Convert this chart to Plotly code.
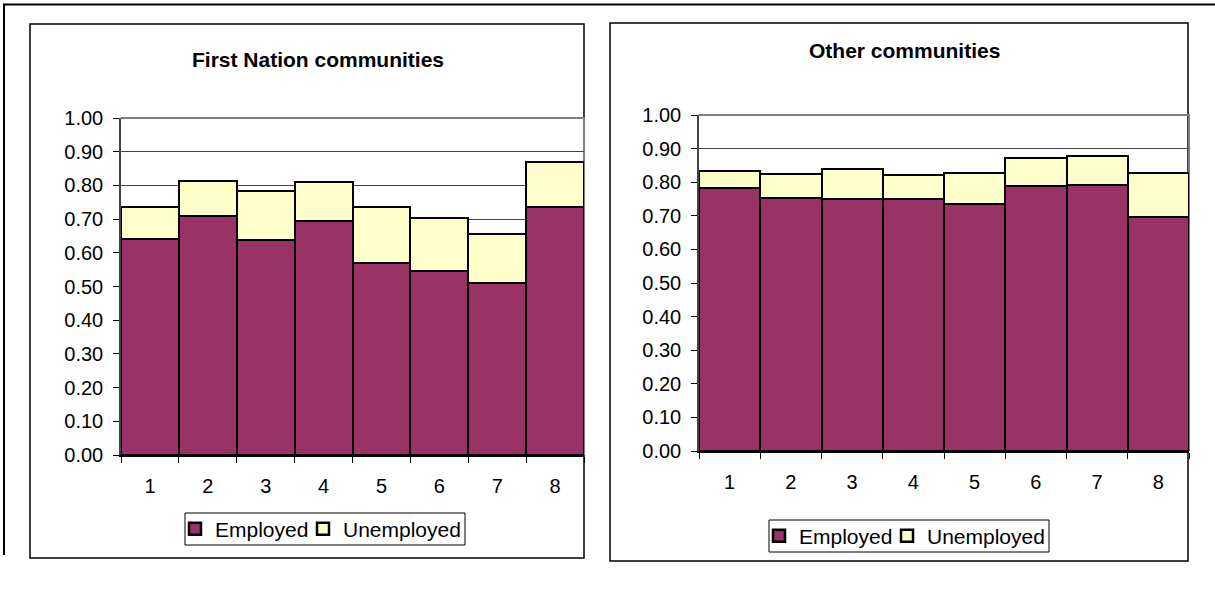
import plotly.graph_objects as go

W, H = 1215, 600

categories = ["1", "2", "3", "4", "5", "6", "7", "8"]

# First Nation communities: employed share and unemployed share (stacked)
fn_employed = [0.641, 0.709, 0.639, 0.694, 0.569, 0.547, 0.510, 0.737]
fn_unemployed = [0.094, 0.104, 0.144, 0.115, 0.168, 0.156, 0.145, 0.132]

# Other communities
oc_employed = [0.782, 0.752, 0.750, 0.749, 0.734, 0.789, 0.793, 0.697]
oc_unemployed = [0.051, 0.072, 0.088, 0.072, 0.092, 0.082, 0.085, 0.129]

series_names = ["Employed", "Unemployed"]
y_tickvals = [0.0, 0.1, 0.2, 0.3, 0.4, 0.5, 0.6, 0.7, 0.8, 0.9, 1.0]
y_ticktext = ["0.00", "0.10", "0.20", "0.30", "0.40", "0.50", "0.60", "0.70", "0.80", "0.90", "1.00"]

EMP_COLOR = "#993366"
UNEMP_COLOR = "#FFFFCC"
FONT = "Liberation Sans, Arial, sans-serif"


def px_x(x):
    return x / W


def px_y(y):
    return 1 - y / H


fig = go.Figure()

# each series gets its own one-entry legend so the entries can be placed freely
panels = [
    dict(emp=fn_employed, unemp=fn_unemployed, xa="x", ya="y", legends=("legend", "legend2")),
    dict(emp=oc_employed, unemp=oc_unemployed, xa="x2", ya="y2", legends=("legend3", "legend4")),
]
for p in panels:
    for name, vals, color, lg in [(series_names[0], p["emp"], EMP_COLOR, p["legends"][0]),
                                  (series_names[1], p["unemp"], UNEMP_COLOR, p["legends"][1])]:
        fig.add_trace(go.Bar(
            x=categories, y=vals, name=name, xaxis=p["xa"], yaxis=p["ya"],
            legend=lg,
            marker=dict(color=color, line=dict(color="black", width=2.5)),
            hoverinfo="skip",
        ))

# plot-area geometry (pixels): left, right, top (1.00), bottom (0.00)
areas = [(121, 584, 118, 455), (699, 1189, 115, 451)]

axis_common_x = dict(
    type="category", tickson="boundaries", ticks="outside", ticklen=6,
    tickwidth=1, tickcolor="black", showline=True, linecolor="black",
    linewidth=2, showgrid=False, ticklabelstandoff=12, automargin=False,
    tickfont=dict(family=FONT, size=20, color="black"), fixedrange=True,
)
axis_common_y = dict(
    range=[0, 1.0], tickvals=y_tickvals, ticktext=y_ticktext, ticks="outside",
    ticklen=6, tickwidth=1, tickcolor="black", showline=True,
    linecolor="#444", linewidth=1.5, showgrid=True, gridcolor="#444",
    gridwidth=1, zeroline=False, ticklabelstandoff=6, automargin=False,
    tickfont=dict(family=FONT, size=20, color="black"), fixedrange=True,
)

(l1, r1, t1, b1), (l2, r2, t2, b2) = areas
fig.update_layout(
    xaxis=dict(domain=[px_x(l1), px_x(r1)], anchor="y", **axis_common_x),
    yaxis=dict(domain=[px_y(b1), px_y(t1)], anchor="x", **axis_common_y),
    xaxis2=dict(domain=[px_x(l2), px_x(r2)], anchor="y2", **axis_common_x),
    yaxis2=dict(domain=[px_y(b2), px_y(t2)], anchor="x2", **axis_common_y),
)

# legend boxes (pixels): left, right, top, bottom
legend_boxes = [(185, 465, 513, 545), (769, 1049, 520, 552)]

legend_common = dict(
    orientation="h", xanchor="left", yanchor="middle",
    bgcolor="rgba(0,0,0,0)", borderwidth=0,
    font=dict(family=FONT, size=21, color="black"),
    itemwidth=30, tracegroupgap=0,
)
legend_layout = {}
names = [("legend", "legend2"), ("legend3", "legend4")]
for (bl, br, bt, bb), (n1, n2) in zip(legend_boxes, names):
    yc = px_y((bt + bb) / 2)
    legend_layout[n1] = dict(x=px_x(bl - 10), y=yc, **legend_common)
    legend_layout[n2] = dict(x=px_x(bl + 118), y=yc, **legend_common)
fig.update_layout(**legend_layout)

shapes = []
# outer frame (top and left edges)
shapes.append(dict(type="line", xref="paper", yref="paper",
                   x0=px_x(3), x1=px_x(1215), y0=px_y(4.5), y1=px_y(4.5),
                   line=dict(color="black", width=2)))
shapes.append(dict(type="line", xref="paper", yref="paper",
                   x0=px_x(4), x1=px_x(4), y0=px_y(4), y1=px_y(555),
                   line=dict(color="black", width=2)))
# chart boxes
for (x0, x1, y0, y1) in [(30, 584, 24, 558), (610, 1188, 23, 561)]:
    shapes.append(dict(type="rect", xref="paper", yref="paper",
                       x0=px_x(x0), x1=px_x(x1), y0=px_y(y1), y1=px_y(y0),
                       line=dict(color="black", width=1.5), layer="below"))
# legend frames
for (x0, x1, y0, y1) in legend_boxes:
    shapes.append(dict(type="rect", xref="paper", yref="paper",
                       x0=px_x(x0), x1=px_x(x1), y0=px_y(y1), y1=px_y(y0),
                       line=dict(color="black", width=1), layer="below"))
# grey plot-area border on top and right
for (l, r, t, b) in areas:
    shapes.append(dict(type="path", xref="paper", yref="paper",
                       path=f"M {px_x(l)} {px_y(t)} L {px_x(r)} {px_y(t)} L {px_x(r)} {px_y(b)}",
                       line=dict(color="#808080", width=2), layer="below"))
fig.update_layout(shapes=shapes)

annotations = [
    dict(text="<b>First Nation communities</b>", x=px_x(318), y=px_y(60),
         xref="paper", yref="paper", showarrow=False, xanchor="center",
         yanchor="middle", font=dict(family=FONT, size=21, color="black")),
    dict(text="<b>Other communities</b>", x=px_x(904), y=px_y(51),
         xref="paper", yref="paper", showarrow=False, xanchor="center",
         yanchor="middle", font=dict(family=FONT, size=21, color="black")),
]
fig.update_layout(annotations=annotations)

fig.update_layout(
    width=W, height=H,
    margin=dict(l=0, r=0, t=0, b=0, pad=0, autoexpand=False),
    barmode="stack", bargap=0, paper_bgcolor="white", plot_bgcolor="white",
    showlegend=True, font=dict(family=FONT, color="black"),
)

fig.write_html("out.html", config={"displayModeBar": False})
